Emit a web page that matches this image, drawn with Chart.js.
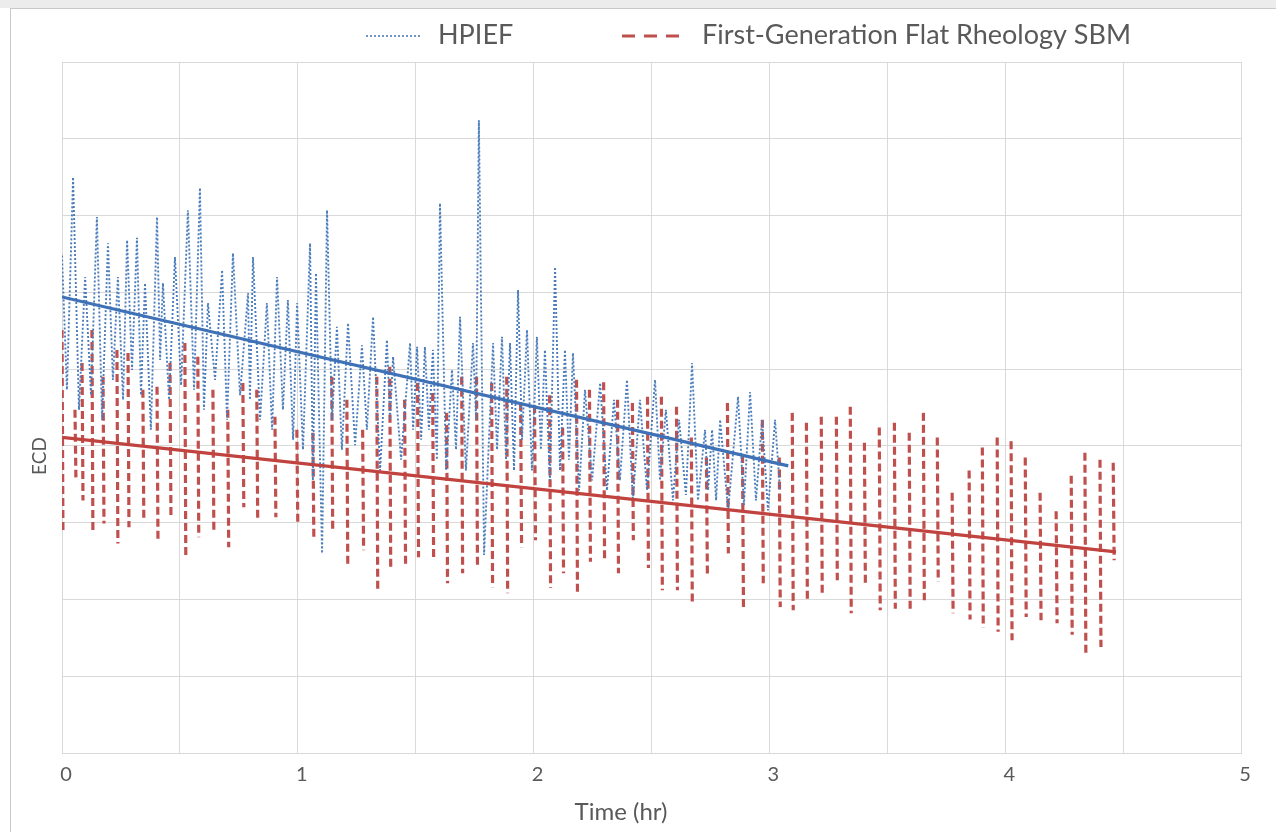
<!DOCTYPE html>
<html>
<head>
<meta charset="utf-8">
<title>ECD vs Time</title>
<script src="https://cdn.jsdelivr.net/npm/chart.js"></script>
<style>
  body { margin: 0; background: #fff; }
  #wrap { position: relative; width: 1276px; height: 832px; overflow: hidden; background: #fff; }
  #strip { position: absolute; left: 0; top: 0; width: 1276px; height: 8px; background: #ececec; }
  #frame { position: absolute; left: 10px; top: 8px; width: 1300px; height: 900px;
           border-left: 1px solid #c9c9c9; border-top: 1px solid #c9c9c9; }
  canvas { position: absolute; left: 0; top: 0; }
</style>
</head>
<body>
<div id="wrap">
  <div id="strip"></div>
  <div id="frame"></div>
  <canvas id="grafica" width="1276" height="832"></canvas>
</div>
<script>
// HPIEF (blue, dotted) - time in hr, ECD (no units shown on the axis)
const blueTime = [0.000,0.021,0.047,0.072,0.098,0.123,0.148,0.170,0.195,0.216,
  0.237,0.259,0.276,0.297,0.318,0.335,0.352,0.377,0.403,0.416,
  0.428,0.454,0.479,0.505,0.534,0.560,0.585,0.602,0.619,0.649,
  0.679,0.700,0.725,0.755,0.789,0.797,0.810,0.840,0.869,0.891,
  0.912,0.937,0.958,0.980,0.997,1.022,1.052,1.064,1.077,1.103,
  1.124,1.145,1.166,1.187,1.213,1.243,1.272,1.293,1.319,1.349,
  1.378,1.391,1.404,1.438,1.476,1.489,1.506,1.523,1.539,1.556,
  1.573,1.590,1.603,1.629,1.654,1.671,1.688,1.713,1.743,1.756,
  1.768,1.790,1.828,1.845,1.866,1.883,1.900,1.917,1.934,1.951,
  1.972,1.993,2.014,2.031,2.048,2.069,2.091,2.112,2.133,2.150,
  2.167,2.193,2.218,2.248,2.282,2.311,2.341,2.366,2.396,2.421,
  2.451,2.481,2.515,2.536,2.561,2.591,2.617,2.646,2.672,2.697,
  2.727,2.740,2.757,2.774,2.791,2.825,2.867,2.892,2.918,2.943,
  2.969,2.994,3.024,3.045];
const blueEcd = [6.48,4.73,7.50,4.47,6.20,4.66,6.98,4.34,6.64,4.86,
  6.20,4.60,6.68,4.99,6.71,4.66,6.12,4.21,6.98,5.12,
  6.12,4.60,6.46,4.79,7.07,4.73,7.36,4.47,5.86,4.86,
  6.29,4.34,6.51,4.66,5.99,4.60,6.46,4.34,5.86,4.21,
  6.20,4.47,5.90,4.08,5.86,3.95,6.64,3.55,6.25,2.60,
  7.07,4.34,5.55,3.95,5.60,4.01,5.31,4.21,5.68,3.68,
  5.38,4.34,5.16,3.82,5.34,4.21,5.29,4.08,5.29,4.21,
  5.25,3.82,7.16,3.68,4.99,3.95,5.68,3.68,5.34,4.34,
  8.24,2.58,5.34,3.95,5.42,3.82,5.34,3.68,6.03,4.08,
  5.51,3.68,5.42,3.95,5.25,3.55,6.33,3.68,5.25,3.82,
  5.21,3.42,4.73,3.55,4.82,3.42,4.60,3.55,4.86,3.29,
  4.60,3.42,4.86,3.55,4.47,3.29,4.34,3.36,5.08,3.29,
  4.21,3.42,4.21,3.29,4.34,3.16,4.64,3.23,4.70,3.29,
  4.34,3.16,4.34,3.42];

// First-Generation Flat Rheology SBM (red, dashed): high / low of each pressure swing
const redTime = [0.000,0.055,0.085,0.127,0.174,0.233,0.280,0.343,0.403,0.458,
  0.521,0.576,0.640,0.703,0.767,0.826,0.903,0.996,1.064,1.144,
  1.208,1.275,1.335,1.390,1.453,1.508,1.572,1.631,1.695,1.758,
  1.822,1.886,1.945,2.004,2.068,2.123,2.182,2.237,2.297,2.356,
  2.419,2.483,2.542,2.606,2.669,2.733,2.822,2.886,2.970,3.042,
  3.097,3.157,3.220,3.284,3.343,3.403,3.466,3.530,3.593,3.653,
  3.712,3.775,3.847,3.903,3.966,4.025,4.085,4.148,4.216,4.280,
  4.338,4.402,4.458];
const redHigh = [5.51,4.47,5.08,5.51,4.90,5.25,5.21,4.73,4.77,5.08,
  5.34,5.16,4.73,4.47,4.82,4.73,4.38,4.21,4.17,4.90,
  4.60,4.21,4.90,5.03,4.60,4.82,4.69,4.43,4.90,4.90,
  4.82,4.90,4.56,4.53,4.66,4.24,4.86,4.73,4.83,4.60,
  4.56,4.64,4.64,4.51,4.11,3.85,4.56,3.88,4.34,3.85,
  4.43,4.30,4.38,4.38,4.51,4.04,4.24,4.30,4.17,4.43,
  4.11,3.39,3.68,3.98,4.11,4.06,3.85,3.39,3.15,3.61,
  3.91,3.82,3.78];
const redLow = [2.86,3.59,3.29,2.90,2.99,2.73,2.94,3.03,2.77,3.07,
  2.55,2.81,2.86,2.68,3.20,3.03,3.07,2.99,2.81,2.90,
  2.42,2.64,2.12,2.42,2.42,2.55,2.55,2.21,2.34,2.42,
  2.16,2.08,2.68,2.77,2.15,2.34,2.08,2.49,2.51,2.34,
  2.77,2.41,2.12,2.12,1.95,2.32,2.60,1.90,2.21,1.90,
  1.86,1.99,2.08,2.25,1.82,2.21,1.86,1.88,1.86,1.99,
  2.23,1.82,1.74,1.63,1.58,1.47,1.77,1.73,1.69,1.54,
  1.30,1.38,2.51];

// linear trend lines (end points)
const blueTrendTime = [0, 3.08];
const blueTrendEcd = [5.94, 3.74];
const redTrendTime = [0, 4.47];
const redTrendEcd = [4.11, 2.62];

// axis ticks
const xTicks = [0, 1, 2, 3, 4, 5];

const azul = "#4a7cbc";
const rojo = "#c0504d";
const gris = "#595959";

const bluePoints = blueTime.map((t, i) => ({ x: t, y: blueEcd[i] }));

// each swing is its own stroke, broken from the next one
const redPoints = [];
redTime.forEach((t, i) => {
  redPoints.push({ x: t, y: redHigh[i] });
  redPoints.push({ x: t + 0.004, y: redLow[i] });
  redPoints.push({ x: t + 0.004, y: null });
});

const blueTrend = blueTrendTime.map((t, i) => ({ x: t, y: blueTrendEcd[i] }));
const redTrend = redTrendTime.map((t, i) => ({ x: t, y: redTrendEcd[i] }));

// legend (line samples) and axis titles, drawn like the original
const textos = {
  id: "textos",
  afterDraw(chart, args, opts) {
    const ctx = chart.ctx;
    ctx.save();
    ctx.fillStyle = opts.color;

    // legend
    ctx.font = opts.legendFont;
    ctx.textBaseline = "alphabetic";
    opts.items.forEach(item => {
      const ds = chart.data.datasets.find(d => d.label === item.label);
      ctx.strokeStyle = ds.borderColor;
      ctx.lineWidth = item.width;
      ctx.setLineDash(item.dash);
      ctx.beginPath();
      ctx.moveTo(item.x, opts.lineY);
      ctx.lineTo(item.x + item.sample, opts.lineY);
      ctx.stroke();
      ctx.setLineDash([]);
      ctx.fillText(ds.label, item.textX, opts.textY);
    });

    // axis titles
    ctx.textAlign = "center";
    ctx.textBaseline = "middle";
    opts.titles.forEach(t => {
      ctx.font = t.font;
      ctx.save();
      ctx.translate(t.x, t.y);
      ctx.rotate(t.rot);
      ctx.fillText(t.text, 0, 0);
      ctx.restore();
    });
    ctx.restore();
  }
};

Chart.defaults.font.family = "Lato";
Chart.defaults.color = gris;

const ctx = document.getElementById("grafica").getContext("2d");
const chart = new Chart(ctx, {
  type: "line",
  data: {
    datasets: [
      {
        label: "HPIEF trend",
        data: blueTrend,
        borderColor: "#3f71b6",
        borderWidth: 3.2,
        pointRadius: 0
      },
      {
        label: "SBM trend",
        data: redTrend,
        borderColor: "#c0433f",
        borderWidth: 3.2,
        pointRadius: 0
      },
      {
        label: "HPIEF",
        data: bluePoints,
        borderColor: azul,
        borderWidth: 1.9,
        borderDash: [2, 2],
        pointRadius: 0
      },
      {
        label: "First-Generation Flat Rheology SBM",
        data: redPoints,
        borderColor: rojo,
        borderWidth: 3.2,
        borderDash: [8, 4],
        pointRadius: 0,
        spanGaps: false
      }
    ]
  },
  options: {
    responsive: false,
    animation: false,
    layout: { padding: { top: 62, left: 62, right: 35, bottom: 0 } },
    elements: { line: { tension: 0 } },
    plugins: {
      legend: { display: false },
      tooltip: { enabled: false },
      textos: {
        color: gris,
        legendFont: "27px Lato",
        lineY: 36,
        textY: 44,
        items: [
          { label: "HPIEF", x: 366, sample: 55, textX: 438, width: 1.6, dash: [2, 2] },
          { label: "First-Generation Flat Rheology SBM", x: 622, sample: 58, textX: 702, width: 3, dash: [13, 9] }
        ],
        titles: [
          { text: "Time (hr)", x: 621, y: 812, rot: 0, font: "24px Lato" },
          { text: "ECD", x: 40, y: 456, rot: -Math.PI / 2, font: "19px Lato" }
        ]
      }
    },
    scales: {
      x: {
        type: "linear",
        min: 0,
        max: 5,
        afterFit: s => { s.height = 79; },
        ticks: {
          stepSize: 0.5,
          padding: 10,
          labelOffset: 4,
          font: { size: 20 },
          color: gris,
          callback: v => (xTicks.includes(v) ? String(v) : "")
        },
        grid: { color: "#d9d9d9", drawTicks: false },
        border: { color: "#d9d9d9" }
      },
      y: {
        min: 0,
        max: 9,
        afterFit: s => { s.width = 0; },
        ticks: { display: false, stepSize: 1 },
        grid: { color: "#d9d9d9", drawTicks: false },
        border: { color: "#d9d9d9" }
      }
    }
  },
  plugins: [textos]
});
</script>
</body>
</html>
